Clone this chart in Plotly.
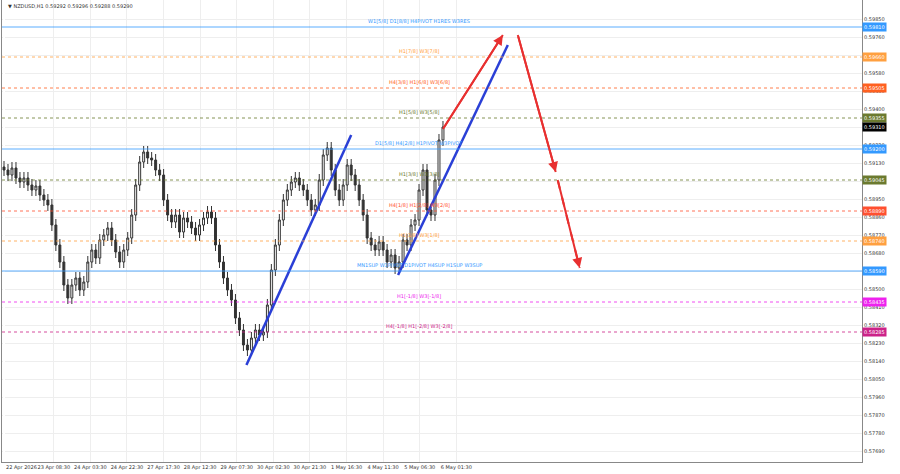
import plotly.graph_objects as go

closes = [0.59095,0.59070,0.59105,0.59055,0.59035,0.59055,0.59020,0.58995,0.59015,0.58970,0.58945,0.58920,0.58820,0.58720,0.58635,0.58520,0.58455,0.58520,0.58555,0.58495,0.58535,0.58635,0.58695,0.58655,0.58745,0.58770,0.58805,0.58745,0.58685,0.58635,0.58695,0.58755,0.58870,0.59020,0.59135,0.59185,0.59155,0.59145,0.59095,0.59070,0.58945,0.58870,0.58835,0.58870,0.58785,0.58855,0.58835,0.58805,0.58770,0.58820,0.58855,0.58885,0.58855,0.58720,0.58635,0.58555,0.58495,0.58445,0.58355,0.58295,0.58220,0.58195,0.58255,0.58295,0.58270,0.58285,0.58420,0.58595,0.58720,0.58845,0.58945,0.58995,0.59035,0.59055,0.59020,0.58995,0.58945,0.58895,0.58920,0.59045,0.59170,0.59205,0.59095,0.58995,0.58945,0.59020,0.59120,0.59070,0.59020,0.58945,0.58870,0.58755,0.58720,0.58695,0.58735,0.58695,0.58635,0.58670,0.58605,0.58635,0.58745,0.58720,0.58820,0.58845,0.58995,0.59095,0.58895,0.58870,0.59045,0.59245,0.59310]
first_open = 0.59110
wick = 0.00030

level_prices = [0.59810,0.59660,0.59505,0.59355,0.59200,0.59045,0.58890,0.58740,0.58590,0.58435,0.58285]
level_texts = ["W1[5/8] D1[8/8] H4PIVOT H1RES W3RES","H1[7/8] W3[7/8]","H4[3/8] H1[6/8] W3[6/8]","H1[5/8] W3[5/8]",
               "D1[5/8] H4[2/8] H1PIVOT W3PIVOT","H1[3/8] W3[3/8]","H4[1/8] H1[2/8] W3[2/8]","H1[1/8] W3[1/8]",
               "MN1SUP W1PIVOT D1PIVOT H4SUP H1SUP W3SUP","H1[-1/8] W3[-1/8]","H4[-1/8] H1[-2/8] W3[-2/8]"]
level_colors = ["#3399ff","#ffa040","#ff6020","#6b7a2f","#3399ff","#6b7a2f","#ff5030","#ffa040","#3399ff","#ee22ee","#cc2288"]
level_dash = ["solid","3px,3px","3px,3px","3px,3px","solid","3px,3px","3px,3px","3px,3px","solid","3px,3px","3px,3px"]
current_price = 0.59310

xtick_labels = ["22 Apr 2026","23 Apr 08:30","24 Apr 03:30","24 Apr 22:30","27 Apr 17:30","28 Apr 12:30","29 Apr 07:30",
                "30 Apr 02:30","30 Apr 21:30","1 May 16:30","4 May 11:30","5 May 06:30","6 May 01:30"]

blue_lines = [((60.75,0.5812),(87,0.5927)),((98.75,0.5857),(126.25,0.5972))]
red_lines = [((110,0.5930),(125,0.5977),"solid"),((128.75,0.5977),(138.25,0.59085),"solid"),((138.75,0.59045),(144.25,0.58605),"dash")]

n = len(closes)
xs = list(range(n))
opens = [first_open] + closes[:-1]
highs = [max(o,c)+wick for o,c in zip(opens,closes)]
lows = [min(o,c)-wick for o,c in zip(opens,closes)]

fig = go.Figure()
fig.add_trace(go.Candlestick(x=xs,open=opens,high=highs,low=lows,close=closes,
    increasing=dict(line=dict(color="#333",width=1),fillcolor="white"),
    decreasing=dict(line=dict(color="#333",width=1),fillcolor="#333"),whiskerwidth=0,showlegend=False))

for p,t,c,d in zip(level_prices,level_texts,level_colors,level_dash):
    fig.add_hline(y=p,line=dict(color=c,width=1,dash=d),opacity=0.8)
    fig.add_annotation(x=104,y=p,text=t,showarrow=False,yshift=6,font=dict(size=5,color=c))
    fig.add_annotation(x=1.0,xref="paper",y=p,text=f"{p:.5f}",showarrow=False,xanchor="left",
                       bgcolor=c,font=dict(size=5,color="white"),borderpad=1)
fig.add_annotation(x=1.0,xref="paper",y=current_price,text=f"{current_price:.5f}",showarrow=False,xanchor="left",
                   bgcolor="black",font=dict(size=5,color="white"),borderpad=1)

for (a,b) in blue_lines:
    fig.add_trace(go.Scatter(x=[a[0],b[0]],y=[a[1],b[1]],mode="lines",line=dict(color="#2a3fd6",width=2.5),showlegend=False))
for (a,b,d) in red_lines:
    fig.add_trace(go.Scatter(x=[a[0],b[0]],y=[a[1],b[1]],mode="lines",line=dict(color="#e83030",width=2,dash=d),showlegend=False))
    fig.add_annotation(x=b[0],y=b[1],ax=a[0],ay=a[1],axref="x",ayref="y",showarrow=True,arrowhead=2,
                       arrowsize=1,arrowwidth=2,arrowcolor="#e83030",text="",standoff=0)

tickv = [3.3 + 9.17*i for i in range(1, len(xtick_labels))]
fig.update_layout(width=900,height=474,margin=dict(l=2,r=38,t=0,b=12,pad=0),paper_bgcolor="white",plot_bgcolor="white",
    xaxis=dict(range=[-0.5,215],tickvals=tickv,ticktext=xtick_labels[1:],tickfont=dict(size=5,color="#333"),automargin=False,
               showgrid=True,gridcolor="#eeeeee",rangeslider=dict(visible=False),showline=True,linecolor="#888",mirror=True,ticks=""),
    yaxis=dict(side="right",range=[0.57635,0.59945],dtick=0.0009,tick0=0.594,tickformat=".5f",tickfont=dict(size=5,color="#333"),
               automargin=False,showgrid=True,gridcolor="#eeeeee",showline=True,linecolor="#888",mirror=True),
    font=dict(family="DejaVu Sans"))
fig.add_annotation(x=0.002,xref="paper",y=0,yref="paper",yshift=0,text=xtick_labels[0],showarrow=False,
                   xanchor="left",yanchor="top",font=dict(size=5,color="#333"))
fig.add_annotation(x=0.005,xref="paper",y=0.998,yref="paper",text="▼ NZDUSD,H1 0.59292 0.59296 0.59288 0.59290",
                   showarrow=False,xanchor="left",yanchor="top",font=dict(size=5,color="#333"))
fig.write_html("out.html", config={"displayModeBar": False})

with open("out.html", encoding="utf-8") as f:
    html = f.read()
html = html.replace("<head>", "<head><style>html,body{margin:0;padding:0;overflow:hidden}</style>", 1)
with open("out.html", "w", encoding="utf-8") as f:
    f.write(html)
